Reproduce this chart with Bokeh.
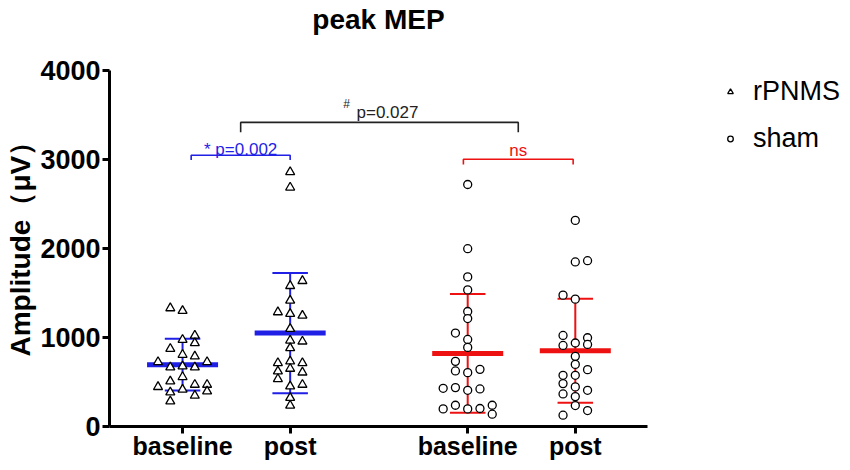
from bokeh.plotting import figure
from bokeh.layouts import row
from bokeh.models import ColumnDataSource, FixedTicker, Legend, LegendItem, Title, Range1d
from bokeh.core.properties import value
from bokeh.embed import file_html
from bokeh.resources import INLINE

# ---------------- data ----------------
tick_labels = ["baseline", "post", "baseline", "post"]
group_x = [1.0, 2.0, 3.65, 4.65]
conditions = ["rPNMS", "rPNMS", "sham", "sham"]
legend_labels = ["rPNMS", "sham"]

rpnms_baseline = [1330, 1300, 1023, 975, 938, 874, 807, 788, 725, 725, 665, 676, 665,
                  557, 508, 445, 470, 470, 415, 384, 347, 396, 283]
rpnms_baseline_col = [-1, 0, 1, 0, 1, -1, 0, 1, -2, 2, -1, 0, 1,
                      0, -1, -2, 1, 2, 0, -1, 1, 2, -1]
rpnms_post = [2860, 2686, 1636, 1580, 1415, 1285, 1266, 1247, 1098, 967, 956, 882, 714,
              732, 714, 620, 650, 608, 534, 452, 470, 322, 236]
rpnms_post_col = [0, 0, 1, 0, 0, -1, 0, 1, 0, 0, 1, 0, -1,
                  0, 1, -1, 0, 1, -1, 0, 1, 0, 0]
sham_baseline = [2719, 1998, 1681, 1535, 1292, 1213, 1050, 978, 889, 732, 624, 605, 642,
                 429, 437, 407, 422, 198, 239, 198, 202, 239, 138]
sham_baseline_col = [0, 0, 0, 0, 0, 0, -1, 0, 0, -1, -1, 0, 1,
                     -2, -1, 0, 1, -2, -1, 0, 1, 2, 2]
sham_post = [2316, 1849, 1863, 1476, 1431, 1023, 997, 911, 938, 922, 788, 698, 639,
             575, 575, 482, 445, 407, 366, 336, 235, 179, 127]
sham_post_col = [0, 0, 1, -1, 0, -1, 1, -1, 0, 1, 0, 0, 1,
                 -1, 0, -1, 0, 1, -1, 0, 0, 1, -1]

group_means = [695, 1050, 821, 851]
group_sds = [290, 675, 667, 584]

y_ticks = [0, 1000, 2000, 3000, 4000]

bracket_left = [1.08, 1.54, 3.61]
bracket_right = [2.0, 4.12, 4.63]
bracket_level = [3048, 3417, 3003]
bracket_drop = [55, 112, 60]
bracket_label = ["* p=0.002", "p=0.027", "ns"]
bracket_label_level = [3115, 3526, 3104]

# ---------------- styling ----------------
BLUE = "#1f1fe6"
RED = "#ee1111"
group_colors = [BLUE, BLUE, RED, RED]
bracket_colors = [BLUE, "#222222", RED]
FONT = "Liberation Sans"
JIT = 0.114
MEAN_HALF = 0.33
CAP_HALF = 0.165
MARKERS = {"rPNMS": ("triangle", 9), "sham": ("circle", 8)}

p = figure(width=660, height=462,
           x_range=Range1d(0.321, 5.321), y_range=Range1d(0, 4000),
           output_backend="svg", toolbar_location=None,
           min_border_left=107, min_border_right=13,
           min_border_top=70, min_border_bottom=35)

p.grid.visible = False
p.outline_line_color = None
p.background_fill_color = "white"

# axes
for ax in (p.xaxis[0], p.yaxis[0]):
    ax.axis_line_width = 3
    ax.axis_line_color = "black"
    ax.major_tick_line_width = 3
    ax.major_tick_line_color = "black"
    ax.major_tick_out = 7
    ax.major_tick_in = 0
    ax.minor_tick_out = 0
    ax.minor_tick_in = 0
    ax.major_label_text_font = FONT
    ax.major_label_text_font_style = "bold"
    ax.major_label_text_color = "black"

p.xaxis.ticker = FixedTicker(ticks=group_x)
p.xaxis.major_label_overrides = {gx: lab for gx, lab in zip(group_x, tick_labels)}
p.xaxis.major_label_standoff = -2
p.xaxis.major_label_text_font_size = "25px"
p.yaxis.ticker = FixedTicker(ticks=y_ticks)
p.yaxis.major_label_standoff = 2
p.yaxis.major_label_text_font_size = "27px"

# spacer between frame and title, then the title itself
p.add_layout(Title(text=" ", text_font_size="10px", standoff=22), "above")
p.title.text = "peak MEP"
p.title.align = "center"
p.title.text_font = FONT
p.title.text_font_size = "28px"
p.title.text_font_style = "bold"
p.title.text_color = "black"
p.title.standoff = 2

ylab = Title(text="Amplitude（μV）", align="left", offset=70,
             text_font=FONT, text_font_size="28px", text_font_style="bold",
             text_color="black", standoff=4)
p.add_layout(ylab, "left")

# mean and SD
for gx, m, sd, c in zip(group_x, group_means, group_sds, group_colors):
    src = ColumnDataSource(dict(x0=[gx - MEAN_HALF], x1=[gx + MEAN_HALF], y=[m]))
    p.segment(x0="x0", y0="y", x1="x1", y1="y", source=src, line_color=c, line_width=5)
    p.segment(x0=[gx], y0=[m - sd], x1=[gx], y1=[m + sd], line_color=c, line_width=2)
    p.segment(x0=[gx - CAP_HALF, gx - CAP_HALF], y0=[m - sd, m + sd],
              x1=[gx + CAP_HALF, gx + CAP_HALF], y1=[m - sd, m + sd],
              line_color=c, line_width=2)

# points
series = [(rpnms_baseline, rpnms_baseline_col), (rpnms_post, rpnms_post_col),
          (sham_baseline, sham_baseline_col), (sham_post, sham_post_col)]
for (vals, cols), gx, cond in zip(series, group_x, conditions):
    src = ColumnDataSource(dict(x=[gx + c * JIT for c in cols], y=vals))
    marker, size = MARKERS[cond]
    p.scatter("x", "y", source=src, marker=marker, size=size,
              fill_color="white", line_color="black", line_width=1.3)

# brackets
for l, r_, lev, d, c in zip(bracket_left, bracket_right, bracket_level, bracket_drop, bracket_colors):
    p.line(x=[l, l, r_, r_], y=[lev - d, lev, lev, lev - d], line_color=c, line_width=1.6)

for i, (l, r_, ly, lab, c) in enumerate(zip(bracket_left, bracket_right, bracket_label_level,
                                              bracket_label, bracket_colors)):
    mid = (l + r_) / 2
    xoff = 8 if i == 1 else 0
    p.text(x=[mid], y=[ly], text=[lab], text_align="center", text_baseline="alphabetic",
           text_color=c, text_font=value(FONT), text_font_size="17px", x_offset=xoff)
    if i == 1:
        p.text(x=[mid], y=[ly], text=["#"], text_align="center", text_baseline="alphabetic",
               text_color=c, text_font=value(FONT), text_font_size="12px",
               x_offset=-33, y_offset=-9)

# ---------------- legend panel ----------------
pl = figure(width=182, height=462, x_range=Range1d(0, 1), y_range=Range1d(0, 1),
            output_backend="svg", toolbar_location=None,
            min_border_left=57, min_border_right=0, min_border_top=70, min_border_bottom=35)
pl.axis.visible = False
pl.grid.visible = False
pl.outline_line_color = None

items = []
for lab in legend_labels:
    marker, size = MARKERS[lab]
    r = pl.scatter(x=[-5], y=[-5], marker=marker, size=size,
                   fill_color="white", line_color="black", line_width=1.3)
    items.append(LegendItem(label=lab, renderers=[r]))

legend = Legend(items=items, location="top_left", margin=0, padding=6,
                glyph_width=14, glyph_height=31, label_height=31, spacing=16,
                label_standoff=16, label_text_font=FONT, label_text_font_size="27px",
                label_text_color="black",
                border_line_alpha=0, background_fill_alpha=0)
pl.add_layout(legend, "center")

open("out.html", "w").write(file_html(row(p, pl), INLINE))
